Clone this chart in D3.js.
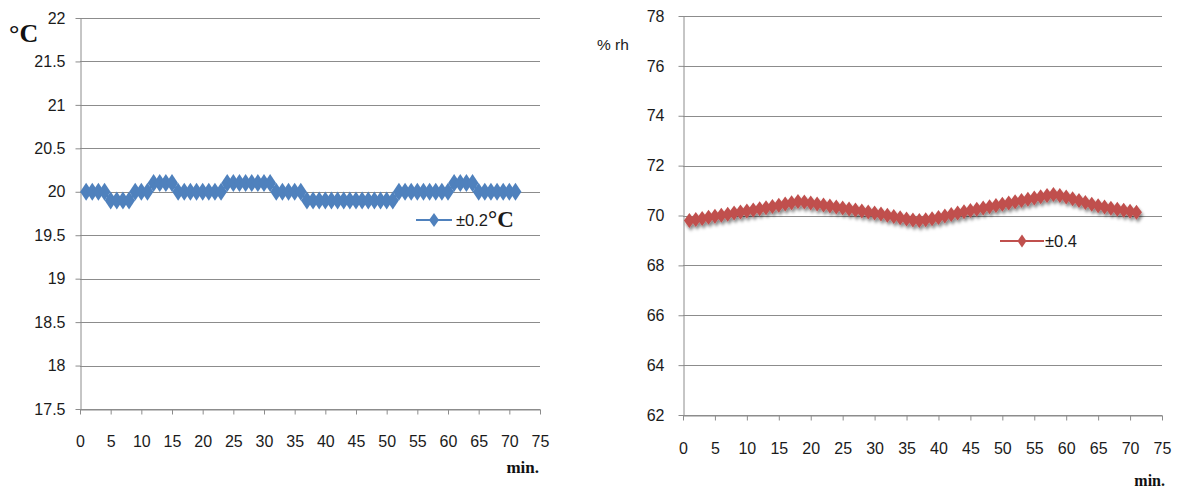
<!DOCTYPE html>
<html>
<head>
<meta charset="utf-8">
<script src="https://cdn.jsdelivr.net/npm/d3@7/dist/d3.min.js"></script>
<style>
html,body{margin:0;padding:0;background:#fff;}
svg{display:block;}
</style>
</head>
<body>
<svg id="chart" width="1177" height="490"></svg>
<script>
// ---- data ----
const minutes = d3.range(1, 72);
const temperature = [
  20.0,20.0,20.0,20.0,            // 1-4
  19.9,19.9,19.9,19.9,            // 5-8
  20.0,20.0,20.0,                 // 9-11
  20.1,20.1,20.1,20.1,            // 12-15
  20.0,20.0,20.0,20.0,20.0,20.0,20.0,20.0, // 16-23
  20.1,20.1,20.1,20.1,20.1,20.1,20.1,20.1, // 24-31
  20.0,20.0,20.0,20.0,20.0,       // 32-36
  19.9,19.9,19.9,19.9,19.9,19.9,19.9,19.9,19.9,19.9,19.9,19.9,19.9,19.9,19.9, // 37-51
  20.0,20.0,20.0,20.0,20.0,20.0,20.0,20.0,20.0, // 52-60
  20.1,20.1,20.1,20.1,            // 61-64
  20.0,20.0,20.0,20.0,20.0,20.0,20.0 // 65-71
];
const humidity = [
  69.80,69.84,69.88,69.93,69.97,70.01,70.05,70.10,70.14,70.18, // 1-10
  70.22,70.27,70.31,70.36,70.41,70.46,70.51,70.56,70.54,70.50, // 11-20
  70.46,70.42,70.38,70.34,70.30,70.26,70.22,70.18,70.14,70.10, // 21-30
  70.06,70.01,69.96,69.91,69.86,69.82,69.80,69.83,69.87,69.92, // 31-40
  69.98,70.04,70.10,70.15,70.20,70.25,70.30,70.35,70.40,70.45, // 41-50
  70.50,70.55,70.60,70.65,70.70,70.75,70.80,70.84,70.80,70.74, // 51-60
  70.67,70.60,70.52,70.45,70.39,70.34,70.29,70.25,70.21,70.17, // 61-70
  70.13                                                        // 71
];
const xTicks = d3.range(0, 76, 5);
const tempTicks = [17.5,18,18.5,19,19.5,20,20.5,21,21.5,22];
const humTicks = [62,64,66,68,70,72,74,76,78];
const tempLegend = "±0.2";
const humLegend = "±0.4";

// ---- drawing ----
const svg = d3.select("#chart");
const FONT = "'Liberation Sans', Arial, sans-serif";
const SERIF = "'Liberation Serif', 'Times New Roman', serif";
const TXT = "#1b1b1b";
const GRID = "#8c8c8c";

const defs = svg.append("defs");
const f = defs.append("filter").attr("id","shadow").attr("x","-50%").attr("y","-50%").attr("width","200%").attr("height","200%");
f.append("feDropShadow").attr("dx",1.5).attr("dy",3).attr("stdDeviation",1.6)
  .attr("flood-color","#000").attr("flood-opacity",0.45);

function diamond(hw, hh){ return `M0,${-hh}L${hw},0L0,${hh}L${-hw},0Z`; }

function panel(o){
  const x = d3.scaleLinear().domain([0,75]).range([o.x0,o.x1]);
  const y = d3.scaleLinear().domain(o.yDomain).range([o.y1,o.y0]);
  const g = svg.append("g");

  // gridlines
  g.append("g").selectAll("line").data(o.yTicks).join("line")
    .attr("x1",o.x0).attr("x2",o.x1)
    .attr("y1",d=>Math.round(y(d))+0.5).attr("y2",d=>Math.round(y(d))+0.5)
    .attr("stroke",GRID).attr("stroke-width",1);

  // y axis
  const ya = g.append("g").attr("transform",`translate(${o.x0+0.5},0)`)
    .call(d3.axisLeft(y).tickValues(o.yTicks).tickSize(5).tickSizeOuter(0).tickPadding(o.yPad).tickFormat(d=>String(d)));
  ya.select(".domain").attr("stroke",GRID);
  ya.selectAll(".tick line").attr("stroke",GRID);
  ya.selectAll("text").attr("font-family",FONT).attr("font-size",16).attr("fill",TXT);

  // x axis
  const xa = g.append("g").attr("transform",`translate(0,${Math.round(y(o.yDomain[0]))+0.5})`)
    .call(d3.axisBottom(x).tickValues(xTicks).tickSize(5).tickSizeOuter(0).tickPadding(o.xPad));
  xa.select(".domain").attr("stroke",GRID);
  xa.selectAll(".tick line").attr("stroke",GRID);
  xa.selectAll("text").attr("font-family",FONT).attr("font-size",16).attr("fill",TXT);

  // series line
  const line = d3.line().x((d,i)=>x(minutes[i])).y(d=>y(d));
  const sg = g.append("g");
  if(o.shadow) sg.attr("filter","url(#shadow)");
  sg.append("path").datum(o.values).attr("d",line).attr("fill","none")
    .attr("stroke",o.color).attr("stroke-width",2);
  sg.selectAll("path.m").data(o.values).join("path").attr("class","m")
    .attr("transform",(d,i)=>`translate(${x(minutes[i])},${y(d)})`)
    .attr("d",diamond(o.mw,o.mh)).attr("fill",o.color);

  return {x,y,g};
}

// Left: temperature
const L = panel({x0:80,x1:540,y0:18,y1:409,yDomain:[17.5,22],yTicks:tempTicks,
  values:temperature,color:"#4F81BD",mw:6,mh:9,shadow:false,yPad:10,xPad:21});
// Right: humidity
const R = panel({x0:683,x1:1162,y0:16,y1:415,yDomain:[62,78],yTicks:humTicks,
  values:humidity,color:"#C0504D",mw:5.5,mh:7.5,shadow:true,yPad:14,xPad:22});

// axis titles
svg.append("text").attr("x",9).attr("y",42)
  .attr("font-family",SERIF).attr("font-weight","bold")
  .attr("font-size",26).attr("fill","#111").text("°C");
svg.append("text").attr("x",597).attr("y",50)
  .attr("font-family",FONT).attr("font-size",15.5).attr("fill",TXT).text("% rh");
svg.append("text").attr("x",539).attr("y",473).attr("text-anchor","end")
  .attr("font-family",SERIF).attr("font-weight","bold")
  .attr("font-size",17).attr("fill","#111").text("min.");
svg.append("text").attr("x",1165).attr("y",486).attr("text-anchor","end")
  .attr("font-family",SERIF).attr("font-weight","bold")
  .attr("font-size",16).attr("fill","#111").text("min.");

// legends
function legend(x0,x1,yc,color,mw,mh,tx,label,unit){
  svg.append("line").attr("x1",x0).attr("x2",x1).attr("y1",yc).attr("y2",yc)
    .attr("stroke",color).attr("stroke-width",2);
  svg.append("path").attr("transform",`translate(${(x0+x1)/2},${yc})`)
    .attr("d",diamond(mw,mh)).attr("fill",color);
  const t = svg.append("text").attr("x",tx).attr("y",yc+6)
    .attr("font-family",FONT).attr("font-size",16.5).attr("fill",TXT).text(label);
  if(unit){
    t.append("tspan").attr("font-family",SERIF)
      .attr("font-weight","bold").attr("font-size",23).attr("dy",1).text(unit);
  }
}
legend(416,452,220,"#4F81BD",5,7,456,tempLegend,"°C");
legend(1000,1044,241,"#C0504D",4.5,6.5,1045,humLegend,null);
</script>
</body>
</html>
